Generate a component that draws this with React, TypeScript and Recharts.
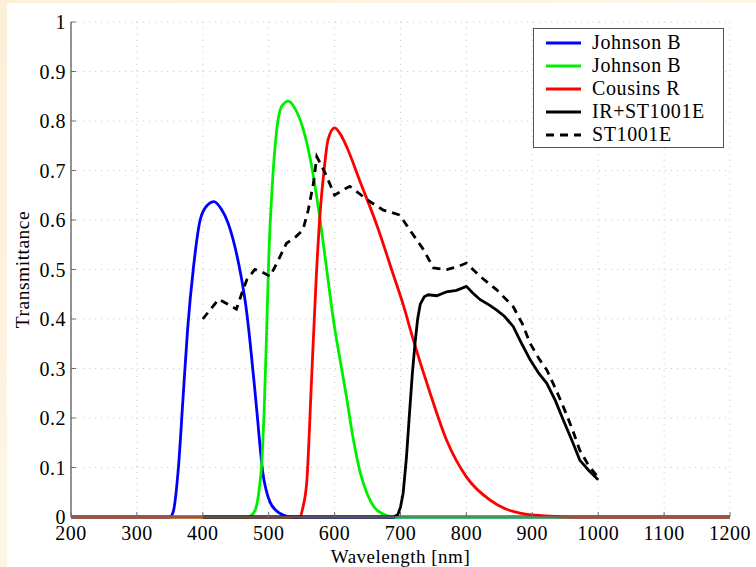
import React from "react";
import {
  LineChart,
  Line,
  XAxis,
  YAxis,
  CartesianGrid,
  Legend,
} from "recharts";

// wavelength [nm] / transmittance pairs
const blueNm = [200, 350, 355, 363, 370, 377, 386, 396, 407, 417, 428, 438, 448, 458, 466, 472, 478, 483, 487, 491, 496, 502, 512, 522, 535, 1200];
const blueT = [0, 0, 0.01, 0.1, 0.24, 0.38, 0.506, 0.6, 0.63, 0.637, 0.622, 0.595, 0.55, 0.487, 0.42, 0.35, 0.27, 0.2, 0.14, 0.09, 0.055, 0.03, 0.012, 0.004, 0, 0];

const greenNm = [200, 468, 478, 485, 490, 493, 497, 500, 505, 512, 520, 530, 540, 552, 565, 578, 590, 598, 608, 618, 628, 639, 650, 660, 675, 690, 1200];
const greenT = [0, 0, 0.01, 0.05, 0.12, 0.21, 0.38, 0.52, 0.66, 0.78, 0.83, 0.84, 0.825, 0.785, 0.71, 0.6, 0.48, 0.4, 0.32, 0.243, 0.16, 0.089, 0.045, 0.02, 0.005, 0, 0];

const redNm = [200, 547, 552, 558, 565, 572, 578, 584, 590, 600, 608, 618, 638, 664, 689, 705, 719, 745, 770, 800, 836, 860, 881, 920, 960, 1200];
const redT = [0, 0, 0.02, 0.075, 0.277, 0.48, 0.614, 0.7, 0.762, 0.786, 0.775, 0.749, 0.68, 0.59, 0.49, 0.425, 0.36, 0.25, 0.155, 0.081, 0.034, 0.016, 0.008, 0.002, 0, 0];

const irNm = [400, 690, 696, 700, 704, 709, 714, 718, 722, 726, 730, 736, 742, 755, 770, 785, 800, 810, 821, 835, 846, 858, 871, 884, 897, 910, 922, 935, 947, 960, 972, 985, 1000];
const irT = [0, 0, 0.005, 0.02, 0.048, 0.12, 0.216, 0.29, 0.35, 0.4, 0.43, 0.445, 0.449, 0.447, 0.455, 0.458, 0.466, 0.452, 0.439, 0.428, 0.418, 0.405, 0.385, 0.35, 0.317, 0.29, 0.27, 0.235, 0.196, 0.155, 0.115, 0.095, 0.075];

const stNm = [400, 412, 424, 438, 451, 460, 467, 479, 490, 502, 515, 527, 540, 552, 560, 568, 573, 580, 588, 600, 612, 623, 636, 649, 674, 699, 714, 735, 750, 770, 785, 800, 821, 846, 871, 885, 897, 910, 922, 935, 947, 960, 972, 985, 1000];
const stT = [0.4, 0.42, 0.44, 0.43, 0.42, 0.455, 0.48, 0.5, 0.495, 0.486, 0.52, 0.553, 0.565, 0.58, 0.62, 0.675, 0.728, 0.71, 0.688, 0.65, 0.66, 0.668, 0.655, 0.641, 0.62, 0.61, 0.58, 0.54, 0.503, 0.5, 0.505, 0.513, 0.486, 0.459, 0.425, 0.39, 0.35, 0.32, 0.297, 0.26, 0.223, 0.18, 0.135, 0.105, 0.08];

const xTicks = [200, 300, 400, 500, 600, 700, 800, 900, 1000, 1100, 1200];
const yTicks = [0, 0.1, 0.2, 0.3, 0.4, 0.5, 0.6, 0.7, 0.8, 0.9, 1];

const toRows = (nm: number[], t: number[]) => nm.map((w, i) => ({ nm: w, t: t[i] }));

const series = [
  { name: "Johnson B", color: "#0000ff", data: toRows(blueNm, blueT), dash: undefined, type: "monotone" },
  { name: "Johnson B", color: "#00ee00", data: toRows(greenNm, greenT), dash: undefined, type: "monotone" },
  { name: "Cousins R", color: "#ff0000", data: toRows(redNm, redT), dash: undefined, type: "monotone" },
  { name: "IR+ST1001E", color: "#000000", data: toRows(irNm, irT), dash: undefined, type: "linear" },
  { name: "ST1001E", color: "#000000", data: toRows(stNm, stT), dash: "8 6", type: "linear" },
];

const FONT = "'Liberation Serif', 'Times New Roman', serif";
const FRAME = "#6f6f6f";
const tickStyle = { fontFamily: FONT, fontSize: 20, fill: "#000", letterSpacing: 0.5 };

const LegendBox = () => (
  <div
    style={{
      border: "1.5px solid #555",
      background: "#fff",
      padding: "2px 0 1px 0",
      fontFamily: FONT,
      fontSize: 20,
      letterSpacing: 0.6,
      lineHeight: "23px",
      color: "#000",
    }}
  >
    {series.map((s, i) => (
      <div key={i} style={{ display: "flex", alignItems: "center" }}>
        <svg width={58} height={23}>
          <line x1={12} x2={47} y1={12} y2={12} stroke={s.color} strokeWidth={2.8} strokeDasharray={s.dash} />
        </svg>
        <span>{s.name}</span>
      </div>
    ))}
  </div>
);

export default function App() {
  return (
    <div style={{ position: "absolute", left: 0, top: 0, width: 756, height: 567, background: "linear-gradient(135deg, #fcefd8, #fdf6e6 50%, #fcefd8)" }}>
      <div style={{ position: "absolute", left: 7, top: 3, right: 0, bottom: 0, background: "#fff" }} />
      <div style={{ position: "absolute", left: 0, top: 0 }}>
        <LineChart width={756} height={567} margin={{ top: 22, right: 26, bottom: 0, left: 0 }}>
          <CartesianGrid stroke="#c8c8c8" strokeDasharray="1 5" />
          <XAxis
            dataKey="nm"
            type="number"
            domain={[200, 1200]}
            ticks={xTicks}
            allowDataOverflow
            height={50}
            tickSize={-5}
            tickMargin={14}
            axisLine={{ stroke: FRAME, strokeWidth: 1.5 }}
            tickLine={{ stroke: FRAME }}
            tick={tickStyle}
            label={{ value: "Wavelength [nm]", position: "insideBottom", offset: 4, style: { ...tickStyle, fontSize: 19 } }}
          />
          <XAxis
            xAxisId="top"
            orientation="top"
            dataKey="nm"
            type="number"
            domain={[200, 1200]}
            ticks={xTicks}
            height={0}
            tickSize={-5}
            tick={false}
            axisLine={{ stroke: FRAME, strokeWidth: 1.5 }}
            tickLine={{ stroke: FRAME }}
          />
          <YAxis
            type="number"
            domain={[0, 1]}
            ticks={yTicks}
            width={71}
            tickSize={-5}
            tickMargin={10}
            axisLine={{ stroke: FRAME, strokeWidth: 1.5 }}
            tickLine={{ stroke: FRAME }}
            tick={tickStyle}
            tickFormatter={(v: number) => String(Math.round(v * 10) / 10)}
            label={{ value: "Transmittance", angle: -90, position: "insideLeft", offset: 22, style: { ...tickStyle, fontSize: 19.5, textAnchor: "middle" } }}
          />
          <YAxis
            yAxisId="right"
            orientation="right"
            type="number"
            domain={[0, 1]}
            ticks={yTicks}
            width={0}
            tickSize={-5}
            tick={false}
            axisLine={{ stroke: FRAME, strokeWidth: 1.5 }}
            tickLine={{ stroke: FRAME }}
          />
          <Legend
            layout="horizontal"
            verticalAlign="middle"
            align="center"
            content={() => <LegendBox />}
            wrapperStyle={{ position: "absolute", left: 533, top: 28, width: 191 }}
          />
          {series.map((s, i) => (
            <Line
              key={i}
              data={s.data}
              dataKey="t"
              name={s.name}
              type={s.type as any}
              stroke={s.color}
              strokeWidth={2.8}
              strokeDasharray={s.dash}
              dot={false}
              activeDot={false}
              isAnimationActive={false}
            />
          ))}
        </LineChart>
      </div>
    </div>
  );
}
